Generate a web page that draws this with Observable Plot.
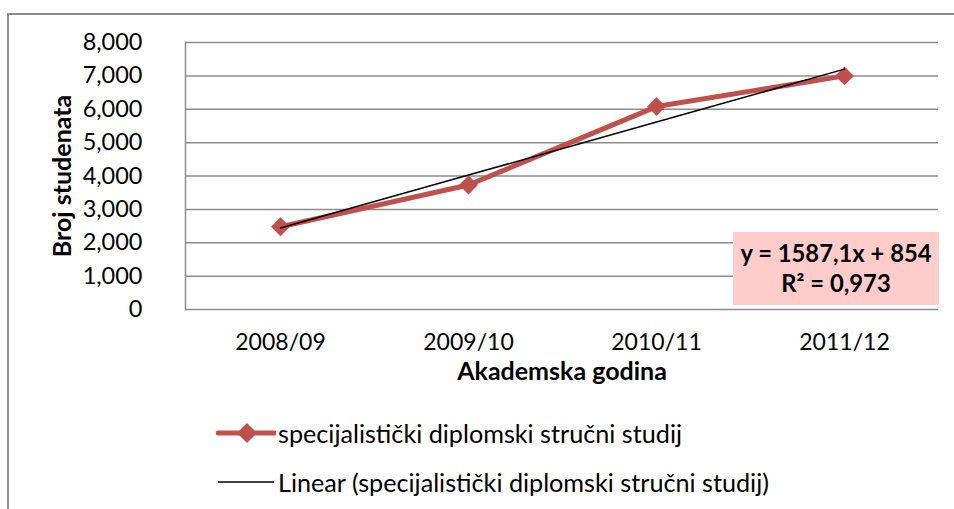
<!DOCTYPE html>
<html>
<head>
<meta charset="utf-8">
<script src="https://cdn.jsdelivr.net/npm/d3@7"></script>
<script src="https://cdn.jsdelivr.net/npm/@observablehq/plot@0.6"></script>
<style>
  html, body { margin: 0; padding: 0; background: #fff; }
  body { width: 954px; height: 509px; overflow: hidden; position: relative; font-family: Lato, "Open Sans", sans-serif; }
  #border { position: absolute; left: 7px; top: 13px; width: 1000px; height: 600px; border-left: 2px solid #8c8c8c; border-top: 2px solid #8c8c8c; box-sizing: border-box; }
  #chart { position: absolute; left: 0; top: 0; }
  .eq { position: absolute; left: 733px; top: 232px; width: 206px; height: 73px; background: #ffcccc; font-weight: bold; font-size: 23.8px; text-align: center; line-height: 30px; padding-top: 6px; box-sizing: border-box; color: #000; }
  .leg { position: absolute; left: 216px; height: 30px; display: flex; align-items: center; font-size: 25.2px; color: #000; white-space: nowrap; }
  .leg svg { margin-right: 2px; }
</style>
</head>
<body>
<div id="border"></div>
<div id="chart"></div>
<div class="eq" id="eq"></div>
<div class="leg" id="leg1" style="top:418px"></div>
<div class="leg" id="leg2" style="top:467px"></div>
<script>
const years = ["2008/09", "2009/10", "2010/11", "2011/12"];
const students = [2480, 3730, 6080, 7000];
const trendSlope = 1587.1;
const trendIntercept = 854;
const rSquared = "0,973";
const yTicks = [0, 1000, 2000, 3000, 4000, 5000, 6000, 7000, 8000];
const seriesName = "specijalistički diplomski stručni studij";

const data = years.map((year, i) => ({year, students: students[i]}));
const trend = years.map((year, i) => ({year, value: trendSlope * (i + 1) + trendIntercept}));

const red = "#C0504D";
const grid = "#8c8c8c";

const chart = Plot.plot({
  width: 954,
  height: 400,
  marginLeft: 185,
  marginRight: 16,
  marginTop: 42,
  marginBottom: 91,
  style: {fontFamily: "Lato, 'Open Sans', sans-serif", fontSize: "23px", color: "#000", background: "transparent"},
  x: {type: "point", domain: years, padding: 0.5},
  y: {domain: [0, 8000]},
  marks: [
    Plot.ruleY(yTicks, {stroke: grid, strokeWidth: 1.5}),
    Plot.frame({anchor: "left", stroke: grid, strokeWidth: 1.5}),
    Plot.axisY({ticks: yTicks, tickSize: 0, tickPadding: 43, tickFormat: d3.format(","), label: null, fontSize: 23.5}),
    Plot.axisX({tickSize: 0, tickPadding: 24, label: null, fontSize: 23}),
    Plot.text(["Broj studenata"], {frameAnchor: "left", dx: -123, rotate: -90, textAnchor: "middle", fontWeight: "bold", fontSize: 25}),
    Plot.text(["Akademska godina"], {frameAnchor: "bottom", dy: 70, textAnchor: "middle", fontWeight: "bold", fontSize: 25}),
    Plot.line(data, {x: "year", y: "students", stroke: red, strokeWidth: 5}),
    Plot.dot(data, {x: "year", y: "students", symbol: "diamond2", r: 8.5, fill: red, stroke: "none"}),
    Plot.line(trend, {x: "year", y: "value", stroke: "#000", strokeWidth: 1.5})
  ]
});
document.getElementById("chart").appendChild(chart);

document.getElementById("eq").innerHTML =
  `y = ${String(trendSlope).replace(".", ",")}x + ${trendIntercept}<br>R² = ${rSquared}`;

document.getElementById("leg1").innerHTML =
  `<svg width="60" height="30"><line x1="2" y1="15" x2="58" y2="15" stroke="${red}" stroke-width="5" stroke-linecap="round"/><path d="M31,5 L41,15 L31,25 L21,15 Z" fill="${red}"/></svg><span>${seriesName}</span>`;
document.getElementById("leg2").innerHTML =
  `<svg width="60" height="30"><line x1="2" y1="15" x2="58" y2="15" stroke="#000" stroke-width="1.5"/></svg><span>Linear (${seriesName})</span>`;
</script>
</body>
</html>
